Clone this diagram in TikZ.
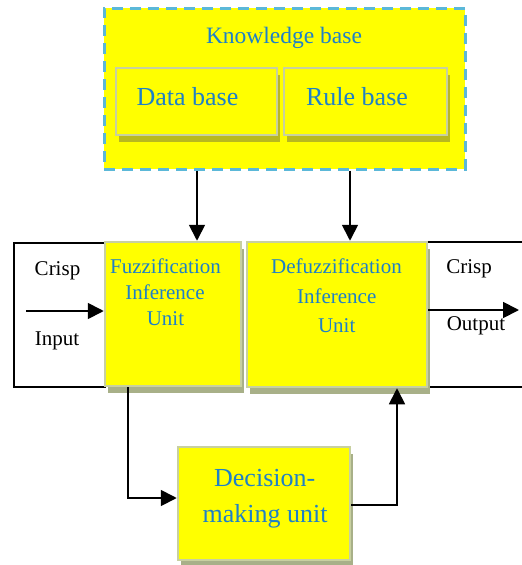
\documentclass[tikz,border=0pt]{standalone}
\usepackage{fontspec}
\setmainfont{Liberation Serif}
\usetikzlibrary{arrows.meta,shadows}
\definecolor{boxyellow}{RGB}{255,255,0}
\definecolor{txtblue}{RGB}{30,128,200}
\definecolor{dashblue}{RGB}{91,184,216}
\definecolor{edgecol}{RGB}{200,208,160}
\definecolor{innershadow}{RGB}{184,184,32}
\definecolor{outershadow}{RGB}{168,176,136}
\begin{document}
\begin{tikzpicture}[x=1pt,y=-1pt,
  kbbox/.style={draw=dashblue, line width=3pt, dash pattern=on 11pt off 7pt, fill=boxyellow, inner sep=0pt},
  innerbox/.style={draw=edgecol, line width=2.5pt, fill=boxyellow, inner sep=0pt,
    general shadow={fill=innershadow, shadow xshift=3pt, shadow yshift=-7pt}},
  unitbox/.style={draw=edgecol, line width=2.5pt, fill=boxyellow, inner sep=0pt,
    general shadow={fill=outershadow, shadow xshift=3pt, shadow yshift=-7pt}},
  frame/.style={draw=black, line width=1.3pt},
  arr/.style={draw=black, line width=1.8pt, -{Triangle[length=16pt,width=16pt]}},
  btxt/.style={text=txtblue, anchor=base, inner sep=0pt},
  ktxt/.style={text=black, anchor=base, inner sep=0pt},
  f21/.style={font=\fontsize{21}{25}\selectfont},
  f235/.style={font=\fontsize{23.5}{28}\selectfont},
  f26/.style={font=\fontsize{26}{31}\selectfont}]
\useasboundingbox (0,0) rectangle (522,565);

% knowledge base
\node[kbbox, minimum width=361pt, minimum height=161pt] (kb) at (284.5,88.5) {};
\node[innerbox, minimum width=161pt, minimum height=67pt] (db) at (196.5,101.5) {};
\node[innerbox, minimum width=163pt, minimum height=67pt] (rb) at (365.5,101.5) {};
\node[btxt, f235] (kbt) at (284,43) {Knowledge base};
\node[btxt, f26] (dbt) at (187.5,105) {Data base};
\node[btxt, f26] (rbt) at (357,105) {Rule base};

% input / output frames
\node[frame, minimum width=91pt, minimum height=144pt, inner sep=0pt, fill=white] (inbox) at (59.5,315) {};
\draw[frame] (522,242) -- (427,242) -- (427,387) -- (522,387);

% units
\node[unitbox, minimum width=136pt, minimum height=144pt] (fuzz) at (173,314) {};
\node[unitbox, minimum width=180pt, minimum height=145pt] (defuzz) at (337,314.5) {};
\node[unitbox, minimum width=172pt, minimum height=113pt] (dec) at (264,503.5) {};

% texts
\node[ktxt, f21] (crispin) at (57.5,275) {Crisp};
\node[ktxt, f21] (input) at (57,345) {Input};
\node[btxt, f21] (fz1) at (165.5,273) {Fuzzification};
\node[btxt, f21] (fz2) at (165,299) {Inference};
\node[btxt, f21] (fz3) at (165.5,325) {Unit};
\node[btxt, f21] (dz1) at (336.5,273) {Defuzzification};
\node[btxt, f21] (dz2) at (336.7,303) {Inference};
\node[btxt, f21] (dz3) at (336.7,332) {Unit};
\node[ktxt, f21] (crispout) at (469,273) {Crisp};
\node[ktxt, f21] (output) at (476,330) {Output};
\node[btxt, f26] (dc1) at (264.7,486) {Decision-};
\node[btxt, f26] (dc2) at (265,522) {making unit};

% connectors
\draw[arr] ([xshift=-87.5pt]kb.south) -- ([xshift=-87.5pt]kb.south |- fuzz.north);
\draw[arr] ([xshift=65.5pt]kb.south) -- ([xshift=65.5pt]kb.south |- defuzz.north);
\coordinate (instart) at (26,311);
\draw[arr] (instart) -- (instart -| fuzz.west);
\coordinate (outend) at (519,310);
\draw[arr] (outend -| defuzz.east) -- (outend);
\draw[arr] ([xshift=-45pt]fuzz.south) |- ([yshift=5.5pt]dec.west);
\draw[arr] ([yshift=-1.5pt]dec.east) -| ([xshift=60pt]defuzz.south);
\end{tikzpicture}
\end{document}
